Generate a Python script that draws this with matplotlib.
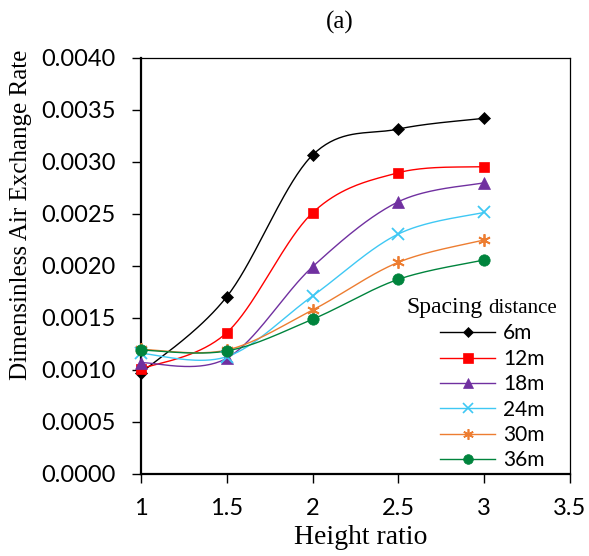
import numpy as np
import matplotlib
matplotlib.use("Agg")
import matplotlib.pyplot as plt
from matplotlib.lines import Line2D

height_ratio = [1.0, 1.5, 2.0, 2.5, 3.0]
series_labels = ["6m", "12m", "18m", "24m", "30m", "36m"]
s6 = [0.000971, 0.001705, 0.003067, 0.003317, 0.003420]
s12 = [0.001010, 0.001359, 0.002512, 0.002897, 0.002955]
s18 = [0.001070, 0.001113, 0.001993, 0.002618, 0.002801]
s24 = [0.001160, 0.001128, 0.001712, 0.002308, 0.002516]
s30 = [0.001199, 0.001192, 0.001577, 0.002036, 0.002250]
s36 = [0.001192, 0.001183, 0.001488, 0.001872, 0.002058]
series_values = [s6, s12, s18, s24, s30, s36]

colors = ["#000000", "#FF0000", "#7030A0", "#3FC8F4", "#ED7D31", "#00843D"]
markers = ["D", "s", "^", "x", (6, 2, 0), "o"]
msizes = [6.5, 7.8, 8.5, 8.5, 9.0, 8.2]

SANS = "Lato"
SERIF = "Liberation Serif"


def smooth(x, y, n=40):
    x = np.asarray(x, float)
    y = np.asarray(y, float)
    P = np.column_stack([x, y])
    Pext = np.vstack([P[0], P, P[-1]])
    out = []
    t = np.linspace(0, 1, n)[:, None]
    for i in range(len(P) - 1):
        p0, p1, p2, p3 = Pext[i], Pext[i + 1], Pext[i + 2], Pext[i + 3]
        c1 = p1 + (p2 - p0) / 6.0
        c2 = p2 - (p3 - p1) / 6.0
        seg = ((1 - t) ** 3) * p1 + 3 * ((1 - t) ** 2) * t * c1 + 3 * (1 - t) * t ** 2 * c2 + t ** 3 * p2
        out.append(seg if i == 0 else seg[1:])
    out = np.vstack(out)
    return out[:, 0], out[:, 1]


fig = plt.figure(figsize=(5.89, 5.56), dpi=100)
ax = fig.add_axes([141 / 589, 1 - 474 / 556, (570 - 141) / 589, (474 - 58) / 556])

handles = []
for vals, c, m, ms, lab in zip(series_values, colors, markers, msizes, series_labels):
    sx, sy = smooth(height_ratio, vals)
    ax.plot(sx, sy, color=c, lw=1.0, zorder=2)
    ax.plot(height_ratio, vals, linestyle="none", marker=m, color=c, ms=ms,
            mew=1.3 if m in ("x", (6, 2, 0)) else 0.5, zorder=3, clip_on=False)
    handles.append(Line2D([], [], color=c, lw=1.0, marker=m, ms=ms * 0.85,
                          mew=1.2 if m in ("x", (6, 2, 0)) else 0.5))

ax.set_xlim(1, 3.5)
ax.set_ylim(0, 0.004)
ax.set_xticks([1, 1.5, 2, 2.5, 3, 3.5])
ax.set_xticklabels(["1", "1.5", "2", "2.5", "3", "3.5"])
ax.set_yticks(np.arange(0, 0.00401, 0.0005))
ax.set_yticklabels([f"{v:.4f}" for v in np.arange(0, 0.00401, 0.0005)])
for lab in ax.get_xticklabels() + ax.get_yticklabels():
    lab.set_fontfamily(SANS)
    lab.set_fontsize(17)
ax.tick_params(axis="y", direction="out", length=6.5, width=1.0, pad=12)
ax.tick_params(axis="x", direction="out", length=6.5, width=1.0, pad=11)
for side in ["top", "right"]:
    ax.spines[side].set_linewidth(0.9)
for side in ["left", "bottom"]:
    ax.spines[side].set_linewidth(1.6)

fig.text(21 / 589, 1 - 215 / 556, "Dimensinless Air Exchange Rate", rotation=90,
         ha="center", va="center", family=SERIF, fontsize=18)
fig.text(361 / 589, 1 - 538 / 556, "Height ratio", ha="center", va="center",
         family=SERIF, fontsize=20)
fig.text(340 / 589, 1 - 22 / 556, "(a)", ha="center", va="center",
         family=SERIF, fontsize=18)

leg = ax.legend(handles, series_labels, loc="upper left",
                bbox_to_anchor=(430 / 589, 1 - 313 / 556), bbox_transform=fig.transFigure,
                frameon=False, handlelength=2.6, handletextpad=0.4, labelspacing=0.26,
                borderpad=0, prop={"family": SANS, "size": 15})
fig.text(406 / 589, 1 - 313 / 556, "Spacing", family=SERIF, fontsize=17, va="baseline")
fig.text(488 / 589, 1 - 313 / 556, "distance", family=SERIF, fontsize=15, va="baseline")

fig.savefig("out.png", dpi=100)
